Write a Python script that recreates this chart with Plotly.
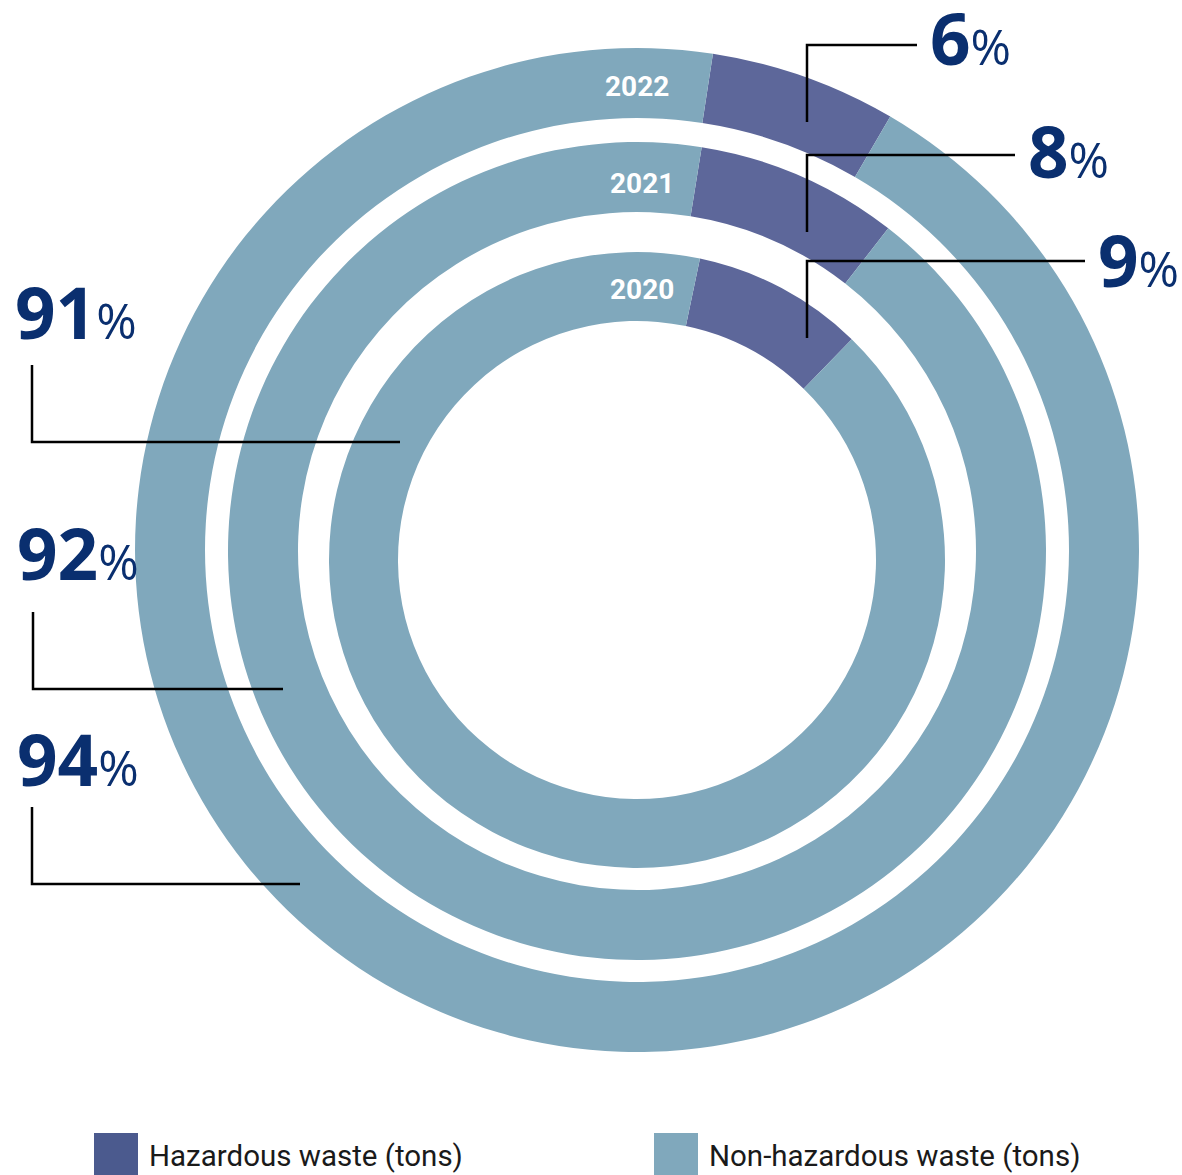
import plotly.graph_objects as go

W, H = 1182, 1175

# Waste split per year (percent of total tonnage)
years = ["2022", "2021", "2020"]
hazardous = [6, 8, 9]
non_hazardous = [94, 92, 91]
categories = ["Hazardous waste (tons)", "Non-hazardous waste (tons)"]

HAZ_COLOR = "#5d679a"
NONHAZ_COLOR = "#80a8bc"
LEGEND_HAZ = "#4b5a8e"
NAVY = "#0a2f6f"


def px(x):
    return x / W


def py(y):
    return 1 - y / H


# ring geometry in pixels: centre x, centre y, outer radius, inner radius
rings = {
    "2022": (637, 550, 502, 432),
    "2021": (637, 551, 409, 339),
    "2020": (637, 560, 308, 239),
}
# clockwise angle (deg from 12 o'clock) at which the hazardous slice is centred
haz_centre = {"2022": 19.5, "2021": 23.5, "2020": 28.0}

fig = go.Figure()
for yr, hz, nh in zip(years, hazardous, non_hazardous):
    cx, cy, ro, ri = rings[yr]
    start = haz_centre[yr] - hz / 100 * 360 / 2
    fig.add_trace(go.Pie(
        labels=categories,
        values=[hz, nh],
        marker=dict(colors=[HAZ_COLOR, NONHAZ_COLOR], line=dict(width=0)),
        hole=ri / ro,
        sort=False,
        direction="clockwise",
        rotation=start,
        textinfo="none",
        hoverinfo="label+percent",
        showlegend=False,
        domain=dict(x=[px(cx - ro), px(cx + ro)], y=[py(cy + ro), py(cy - ro)]),
    ))

annotations = []
shapes = []

# year labels at the top of each ring
year_pos = {"2022": (637, 87), "2021": (642, 183), "2020": (642, 289)}
for yr in years:
    x, y = year_pos[yr]
    annotations.append(dict(
        x=px(x), y=py(y), xref="paper", yref="paper", showarrow=False,
        text=f"<b>{yr}</b>", font=dict(family="Roboto", size=28, color="white"),
        xanchor="center", yanchor="middle",
    ))


def pct_label(value, x_left, y_mid):
    annotations.append(dict(
        x=px(x_left), y=py(y_mid), xref="paper", yref="paper", showarrow=False,
        text=f"<b>{value}</b><span style='font-size:49px'>%</span>",
        font=dict(family="Open Sans", size=71, color=NAVY),
        xanchor="left", yanchor="middle", height=70, valign="middle",
    ))


def leader(points):
    path = "M " + " L ".join(f"{px(x)},{py(y)}" for x, y in points)
    shapes.append(dict(type="path", xref="paper", yref="paper", path=path,
                       line=dict(color="black", width=2.5)))


# hazardous share labels (right side)
pct_label(hazardous[0], 928, 37)
leader([(807, 122), (807, 45), (917, 45)])
pct_label(hazardous[1], 1026, 150)
leader([(807, 232), (807, 155), (1015, 155)])
pct_label(hazardous[2], 1096, 259)
leader([(807, 338), (807, 261), (1085, 261)])

# non-hazardous share labels (left side)
pct_label(non_hazardous[2], 13, 311)
leader([(32, 365), (32, 442), (400, 442)])
pct_label(non_hazardous[1], 15, 552)
leader([(33, 612), (33, 689), (283, 689)])
pct_label(non_hazardous[0], 15, 758)
leader([(32, 807), (32, 884), (300, 884)])

# legend
for (x0, color, label) in [(94, LEGEND_HAZ, categories[0]), (654, NONHAZ_COLOR, categories[1])]:
    shapes.append(dict(type="rect", xref="paper", yref="paper",
                       x0=px(x0), x1=px(x0 + 44), y0=py(1180), y1=py(1133),
                       fillcolor=color, line=dict(width=0)))
    annotations.append(dict(
        x=px(x0 + 53), y=py(1156), xref="paper", yref="paper", showarrow=False,
        text=label, font=dict(family="Roboto", size=29.5, color="#1a1a1a"),
        xanchor="left", yanchor="middle",
    ))

fig.update_layout(
    width=W, height=H,
    margin=dict(l=0, r=0, t=0, b=0),
    paper_bgcolor="white", plot_bgcolor="white",
    annotations=annotations, shapes=shapes,
    showlegend=False,
)

fig.write_html("out.html")
